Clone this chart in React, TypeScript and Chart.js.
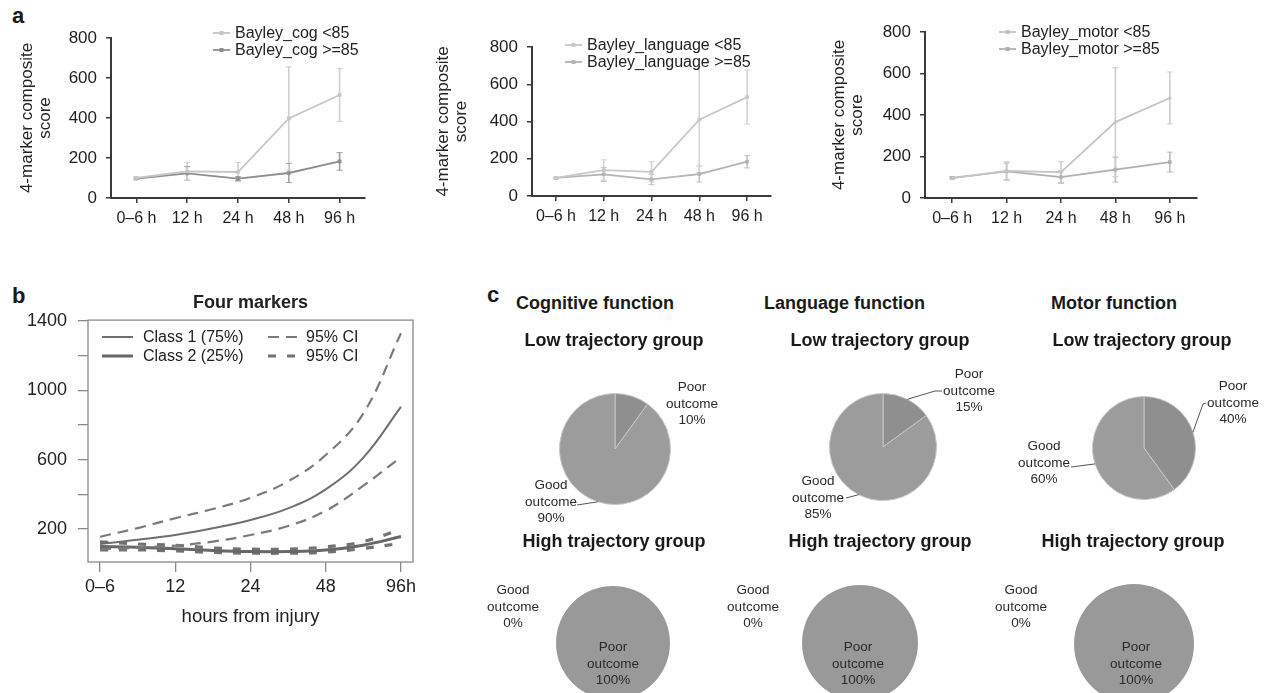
import React, { useEffect, useRef } from 'react';
import { Chart, registerables } from 'chart.js';

Chart.register(...registerables);

const FONT = "'Liberation Sans', Arial, Helvetica, sans-serif";
Chart.defaults.font.family = FONT;
Chart.defaults.color = '#222';

// ---------------- data: panel a ----------------
const timeLabels = ['0–6 h', '12 h', '24 h', '48 h', '96 h'];
const yTitleA = ['4-marker composite', 'score'];

const cogLow = [100, 133, 130, 398, 515];
const cogLowErr = [5, 45, 48, 258, 133];
const cogHigh = [97, 123, 97, 125, 183];
const cogHighErr = [4, 34, 10, 48, 44];

const langLow = [97, 139, 130, 410, 531];
const langLowErr = [5, 55, 54, 285, 145];
const langHigh = [97, 116, 89, 118, 184];
const langHighErr = [4, 38, 28, 43, 33];

const motorLow = [96, 130, 125, 366, 482];
const motorLowErr = [5, 45, 50, 262, 125];
const motorHigh = [97, 128, 101, 137, 173];
const motorHighErr = [4, 40, 30, 60, 48];

// ---------------- data: panel b ----------------
const bXLabels = ['0–6', '12', '24', '48', '96h'];
const bX = [0, 0.5, 1, 1.5, 2, 2.5, 3, 3.5, 4];
const class1 = [113, 137, 165, 204, 252, 319, 428, 612, 905];
const class1Upper = [155, 205, 262, 315, 380, 475, 627, 867, 1330];
const class1Lower = [83, 92, 104, 127, 165, 217, 305, 450, 614];
const class2 = [98, 94, 85, 75, 69, 69, 78, 106, 156];
const class2Upper = [125, 113, 106, 90, 83, 83, 96, 127, 198];
const class2Lower = [79, 79, 73, 64, 60, 60, 66, 87, 117];
const bYTicks = [200, 400, 600, 800, 1000, 1200, 1400];
const bYLabelled = [200, 600, 1000, 1400];

// ---------------- data: panel c ----------------
const outcomeLabels = ['Poor outcome', 'Good outcome'];
const cogLowPct = [10, 90];
const langLowPct = [15, 85];
const motorLowPct = [40, 60];
const cogHighPct = [100, 0];
const langHighPct = [100, 0];
const motorHighPct = [100, 0];

// ---------------- plugins ----------------
type LegendItem = { ds: number; x: number; y: number; w: number; tx: number };

function legendPlugin(items: LegendItem[], size: number, marker: boolean) {
  return {
    id: 'insideLegend',
    afterDatasetsDraw(chart: any) {
      const ctx = chart.ctx;
      ctx.save();
      for (const it of items) {
        const ds = chart.data.datasets[it.ds];
        ctx.strokeStyle = ds.borderColor;
        ctx.lineWidth = ds.borderWidth;
        ctx.setLineDash(ds.borderDash || []);
        ctx.beginPath();
        ctx.moveTo(it.x, it.y);
        ctx.lineTo(it.x + it.w, it.y);
        ctx.stroke();
        ctx.setLineDash([]);
        if (marker) {
          ctx.fillStyle = ds.borderColor;
          ctx.fillRect(it.x + it.w / 2 - 2, it.y - 2, 4, 4);
        }
        ctx.fillStyle = '#222';
        ctx.font = `${size}px ${FONT}`;
        ctx.textAlign = 'left';
        ctx.textBaseline = 'middle';
        ctx.fillText(ds.label, it.tx, it.y + 1);
      }
      ctx.restore();
    },
  };
}

const frameColor = '#8a8a8a';
const boxFrame = {
  id: 'boxFrame',
  afterDatasetsDraw(chart: any) {
    const { left, top, right, bottom } = chart.chartArea;
    const ctx = chart.ctx;
    ctx.save();
    ctx.strokeStyle = frameColor;
    ctx.lineWidth = 1.3;
    ctx.strokeRect(left, top, right - left, bottom - top);
    ctx.restore();
  },
};

type PieItem = { dx: number; dy: number; leader?: number[][] };

function pieLabelPlugin(items: PieItem[]) {
  return {
    id: 'pieLabels',
    afterDatasetsDraw(chart: any) {
      const ctx = chart.ctx;
      const meta = chart.getDatasetMeta(0);
      const ds = chart.data.datasets[0];
      ctx.save();
      ctx.font = `13.5px ${FONT}`;
      ctx.fillStyle = '#2a2a2a';
      ctx.textAlign = 'center';
      ctx.textBaseline = 'middle';
      items.forEach((it, i) => {
        const arc = meta.data[i];
        const cx = arc.x;
        const cy = arc.y;
        const lines = [...String(chart.data.labels[i]).split(' '), `${ds.data[i]}%`];
        lines.forEach((t, k) => ctx.fillText(t, cx + it.dx, cy + it.dy + (k - 1) * 16.3));
        if (it.leader) {
          const mid = (arc.startAngle + arc.endAngle) / 2;
          const ex = cx + Math.cos(mid) * arc.outerRadius;
          const ey = cy + Math.sin(mid) * arc.outerRadius;
          ctx.strokeStyle = '#555';
          ctx.lineWidth = 1;
          ctx.beginPath();
          ctx.moveTo(cx + it.leader[0][0], cy + it.leader[0][1]);
          for (let k = 1; k < it.leader.length; k++) ctx.lineTo(cx + it.leader[k][0], cy + it.leader[k][1]);
          ctx.lineTo(ex, ey);
          ctx.stroke();
        }
      });
      ctx.restore();
    },
  };
}

// ---------------- config builders ----------------
type Series = { label: string; values: number[]; err: number[]; color: string; errColor: string; point: string };
type LineSpec = {
  low: Series;
  high: Series;
  yW: number;
  padTop: number;
  padRight: number;
  xH: number;
  titlePad: number;
  legendX: number;
  legendY: number;
};

const axisColor = '#3a3a3a';

function lineConfig(s: LineSpec) {
  const series = [s.low, s.high];
  const datasets: any[] = [];
  series.forEach((se) => {
    datasets.push({
      type: 'line',
      label: se.label,
      data: se.values,
      borderColor: se.color,
      backgroundColor: se.color,
      borderWidth: 1.8,
      pointStyle: se.point,
      pointRadius: 2.6,
      pointBorderWidth: 0,
      order: 0,
    });
  });
  series.forEach((se) => {
    datasets.push({
      type: 'bar',
      label: se.label + ' error',
      data: se.values.map((v, i) => [v - se.err[i], v + se.err[i]]),
      backgroundColor: se.errColor,
      barThickness: 1,
      grouped: false,
      order: 2,
    });
    [1, -1].forEach((sign) => {
      datasets.push({
        type: 'line',
        label: se.label + ' cap',
        data: se.values.map((v, i) => v + sign * se.err[i]),
        showLine: false,
        pointStyle: 'line',
        pointRadius: 3,
        borderColor: se.errColor,
        borderWidth: 1,
        order: 1,
      });
    });
  });
  const legendItems: LegendItem[] = [
    { ds: 0, x: s.legendX, y: s.legendY, w: 17, tx: s.legendX + 22 },
    { ds: 1, x: s.legendX, y: s.legendY + 17, w: 17, tx: s.legendX + 22 },
  ];
  return {
    type: 'line',
    data: { labels: timeLabels, datasets },
    options: {
      responsive: false,
      animation: false,
      events: [],
      layout: { padding: { top: s.padTop, right: s.padRight, left: 0, bottom: 0 } },
      plugins: { legend: { display: false }, tooltip: { enabled: false } },
      scales: {
        x: {
          type: 'category',
          offset: true,
          grid: { drawOnChartArea: false, drawTicks: true, tickLength: 5, offset: false, color: axisColor, lineWidth: 1.5 },
          border: { display: true, color: axisColor, width: 2 },
          ticks: { font: { size: 16 }, color: '#1e1e1e', padding: 6, maxRotation: 0, autoSkip: false },
          afterFit: (sc: any) => {
            sc.height = s.xH;
          },
        },
        y: {
          type: 'linear',
          min: 0,
          max: 800,
          grid: { drawOnChartArea: false, drawTicks: true, tickLength: 5, color: axisColor, lineWidth: 1.5 },
          border: { display: true, color: axisColor, width: 2 },
          ticks: { stepSize: 200, font: { size: 17 }, color: '#1e1e1e', padding: 9 },
          title: {
            display: true,
            text: yTitleA,
            font: { size: 17, lineHeight: 1.06 },
            color: '#222',
            padding: { top: s.titlePad, bottom: 0 },
          },
          afterFit: (sc: any) => {
            sc.width = s.yW;
          },
        },
      },
    },
    plugins: [legendPlugin(legendItems, 16, true)],
  };
}

function bConfig() {
  const pts = (arr: number[]) => bX.map((x, i) => ({ x, y: arr[i] }));
  const c1 = '#6f6f6f';
  const c1ci = '#7a7a7a';
  const c2 = '#676767';
  const c2ci = '#727272';
  const datasets: any[] = [
    { label: 'Class 1 (75%)', data: pts(class1), borderColor: c1, borderWidth: 2 },
    { label: '95% CI', data: pts(class1Upper), borderColor: c1ci, borderWidth: 2.2, borderDash: [11, 7] },
    { label: '95% CI', data: pts(class1Lower), borderColor: c1ci, borderWidth: 2.2, borderDash: [11, 7] },
    { label: 'Class 2 (25%)', data: pts(class2), borderColor: c2, borderWidth: 3 },
    { label: '95% CI', data: pts(class2Upper), borderColor: c2ci, borderWidth: 3.2, borderDash: [8, 11] },
    { label: '95% CI', data: pts(class2Lower), borderColor: c2ci, borderWidth: 3.2, borderDash: [8, 11] },
  ].map((d) => ({ ...d, pointRadius: 0, tension: 0.4, fill: false }));
  const legendItems: LegendItem[] = [
    { ds: 0, x: 102, y: 82, w: 31, tx: 143 },
    { ds: 3, x: 102, y: 101, w: 31, tx: 143 },
    { ds: 1, x: 268, y: 82, w: 30, tx: 306 },
    { ds: 4, x: 268, y: 101, w: 30, tx: 306 },
  ];
  return {
    type: 'line',
    data: { datasets },
    options: {
      responsive: false,
      animation: false,
      events: [],
      layout: { padding: { top: 0, right: 27, left: 0, bottom: 0 } },
      plugins: {
        legend: { display: false },
        tooltip: { enabled: false },
        title: {
          display: true,
          text: 'Four markers',
          fullSize: false,
          font: { size: 18, weight: 'bold', lineHeight: 1.2 },
          color: '#222',
          padding: { top: 37, bottom: 6.5 },
        },
      },
      scales: {
        x: {
          type: 'linear',
          min: -0.16,
          max: 4.16,
          afterBuildTicks: (sc: any) => {
            sc.ticks = bXLabels.map((_, i) => ({ value: i }));
          },
          ticks: {
            callback: (_v: any, i: number) => bXLabels[i],
            autoSkip: false,
            maxRotation: 0,
            font: { size: 18 },
            color: '#222',
            padding: 4,
          },
          grid: { drawOnChartArea: false, tickLength: 10, color: frameColor, lineWidth: 1.3 },
          border: { display: false },
          title: {
            display: true,
            text: 'hours from injury',
            font: { size: 18.5, lineHeight: 1.2 },
            color: '#222',
            padding: { top: 0, bottom: 27 },
          },
          afterFit: (sc: any) => {
            sc.height = 93;
          },
        },
        y: {
          type: 'linear',
          min: 9,
          max: 1406,
          afterBuildTicks: (sc: any) => {
            sc.ticks = bYTicks.map((v) => ({ value: v }));
          },
          ticks: {
            callback: (v: any) => (bYLabelled.includes(v) ? String(v) : ''),
            autoSkip: false,
            font: { size: 18 },
            color: '#222',
            padding: 11,
          },
          grid: { drawOnChartArea: false, tickLength: 10, color: frameColor, lineWidth: 1.3 },
          border: { display: false },
          afterFit: (sc: any) => {
            sc.width = 88;
          },
        },
      },
    },
    plugins: [boxFrame, legendPlugin(legendItems, 16, false)],
  };
}

type PieSpec = { cx: number; cy: number; r: number; values: number[]; items: PieItem[]; border: number; poorColor: string };

const PIE_W = 300;
const PIE_H = 185;

function pieConfig(p: PieSpec) {
  return {
    type: 'pie',
    data: {
      labels: outcomeLabels,
      datasets: [
        {
          data: p.values,
          backgroundColor: [p.poorColor, '#9c9c9c'],
          borderColor: '#c6c6c6',
          borderWidth: p.border,
          hoverOffset: 0,
          offset: 0,
        },
      ],
    },
    options: {
      responsive: false,
      animation: false,
      events: [],
      layout: { padding: { left: 150 - p.r, right: 150 - p.r, top: 90 - p.r, bottom: PIE_H - 90 - p.r } },
      plugins: { legend: { display: false }, tooltip: { enabled: false } },
    },
    plugins: [pieLabelPlugin(p.items)],
  };
}

// ---------------- components ----------------
function CanvasChart({ left, top, width, height, make }: { left: number; top: number; width: number; height: number; make: () => any }) {
  const ref = useRef<HTMLCanvasElement | null>(null);
  useEffect(() => {
    if (!ref.current) return;
    const chart = new Chart(ref.current, make());
    return () => chart.destroy();
  }, []);
  return <canvas ref={ref} width={width} height={height} style={{ position: 'absolute', left, top, width, height }} />;
}

function Txt({ x, y, text, size, bold = false, align = 'left' }: { x: number; y: number; text: string; size: number; bold?: boolean; align?: 'left' | 'center' }) {
  const style: any = {
    position: 'absolute',
    top: y - size / 2,
    fontSize: size,
    lineHeight: `${size}px`,
    fontFamily: FONT,
    fontWeight: bold ? 700 : 400,
    color: '#1a1a1a',
    whiteSpace: 'nowrap',
  };
  if (align === 'center') {
    style.left = x - 200;
    style.width = 400;
    style.textAlign = 'center';
  } else {
    style.left = x;
  }
  return <div style={style}>{text}</div>;
}

const pies: PieSpec[] = [
  { cx: 615, cy: 449, r: 56, values: cogLowPct, border: 1, poorColor: '#8f8f8f', items: [{ dx: 77, dy: -45 }, { dx: -64, dy: 53, leader: [[-38, 56]] }] },
  { cx: 883, cy: 447, r: 54, values: langLowPct, border: 1, poorColor: '#8f8f8f', items: [{ dx: 86, dy: -56, leader: [[59, -56], [52, -56]] }, { dx: -65, dy: 51, leader: [[-37, 51]] }] },
  { cx: 1144, cy: 448, r: 52, values: motorLowPct, border: 1, poorColor: '#8f8f8f', items: [{ dx: 89, dy: -45, leader: [[62, -45], [59, -44]] }, { dx: -100, dy: 15, leader: [[-73, 19]] }] },
  { cx: 613, cy: 643, r: 57, values: cogHighPct, border: 0, poorColor: '#999999', items: [{ dx: 0, dy: 21 }, { dx: -100, dy: -36 }] },
  { cx: 860, cy: 643, r: 58, values: langHighPct, border: 0, poorColor: '#999999', items: [{ dx: -2, dy: 21 }, { dx: -107, dy: -36 }] },
  { cx: 1134, cy: 644, r: 60, values: motorHighPct, border: 0, poorColor: '#999999', items: [{ dx: 2, dy: 20 }, { dx: -113, dy: -37 }] },
];

export default function App() {
  return (
    <div style={{ position: 'fixed', left: 0, top: 0, width: 1267, height: 693, overflow: 'hidden', background: '#fff' }}>
      <Txt x={12} y={15.6} text="a" size={22} bold />
      <Txt x={12} y={296.4} text="b" size={22} bold />
      <Txt x={487} y={295.4} text="c" size={22} bold />

      <CanvasChart
        left={0}
        top={0}
        width={420}
        height={240}
        make={() =>
          lineConfig({
            low: { label: 'Bayley_cog <85', values: cogLow, err: cogLowErr, color: '#c6c6c6', errColor: '#d0d0d0', point: 'rect' },
            high: { label: 'Bayley_cog >=85', values: cogHigh, err: cogHighErr, color: '#8e8e8e', errColor: '#a0a0a0', point: 'rect' },
            yW: 111,
            padTop: 38,
            padRight: 55,
            xH: 42,
            titlePad: 18,
            legendX: 213,
            legendY: 33,
          })
        }
      />
      <CanvasChart
        left={420}
        top={0}
        width={420}
        height={240}
        make={() =>
          lineConfig({
            low: { label: 'Bayley_language <85', values: langLow, err: langLowErr, color: '#c8c8c8', errColor: '#d6d6d6', point: 'rect' },
            high: { label: 'Bayley_language >=85', values: langHigh, err: langHighErr, color: '#b4b4b4', errColor: '#c4c4c4', point: 'rect' },
            yW: 112,
            padTop: 47,
            padRight: 69,
            xH: 44,
            titlePad: 14,
            legendX: 145,
            legendY: 45,
          })
        }
      />
      <CanvasChart
        left={820}
        top={0}
        width={447}
        height={240}
        make={() =>
          lineConfig({
            low: { label: 'Bayley_motor <85', values: motorLow, err: motorLowErr, color: '#c4c4c4', errColor: '#cfcfcf', point: 'triangle' },
            high: { label: 'Bayley_motor >=85', values: motorHigh, err: motorHighErr, color: '#b0b0b0', errColor: '#bdbdbd', point: 'rect' },
            yW: 105,
            padTop: 32,
            padRight: 70,
            xH: 42,
            titlePad: 10,
            legendX: 179,
            legendY: 32,
          })
        }
      />

      <CanvasChart left={0} top={255} width={440} height={400} make={bConfig} />

      <Txt x={516} y={303} text="Cognitive function" size={18} bold />
      <Txt x={764} y={303} text="Language function" size={18} bold />
      <Txt x={1051} y={303} text="Motor function" size={18} bold />
      <Txt x={614} y={340} text="Low trajectory group" size={18} bold align="center" />
      <Txt x={880} y={340} text="Low trajectory group" size={18} bold align="center" />
      <Txt x={1142} y={340} text="Low trajectory group" size={18} bold align="center" />
      <Txt x={614} y={541} text="High trajectory group" size={18} bold align="center" />
      <Txt x={880} y={541} text="High trajectory group" size={18} bold align="center" />
      <Txt x={1133} y={541} text="High trajectory group" size={18} bold align="center" />

      {pies.map((p, i) => (
        <CanvasChart key={i} left={p.cx - 150} top={p.cy - 90} width={PIE_W} height={PIE_H} make={() => pieConfig(p)} />
      ))}
    </div>
  );
}
